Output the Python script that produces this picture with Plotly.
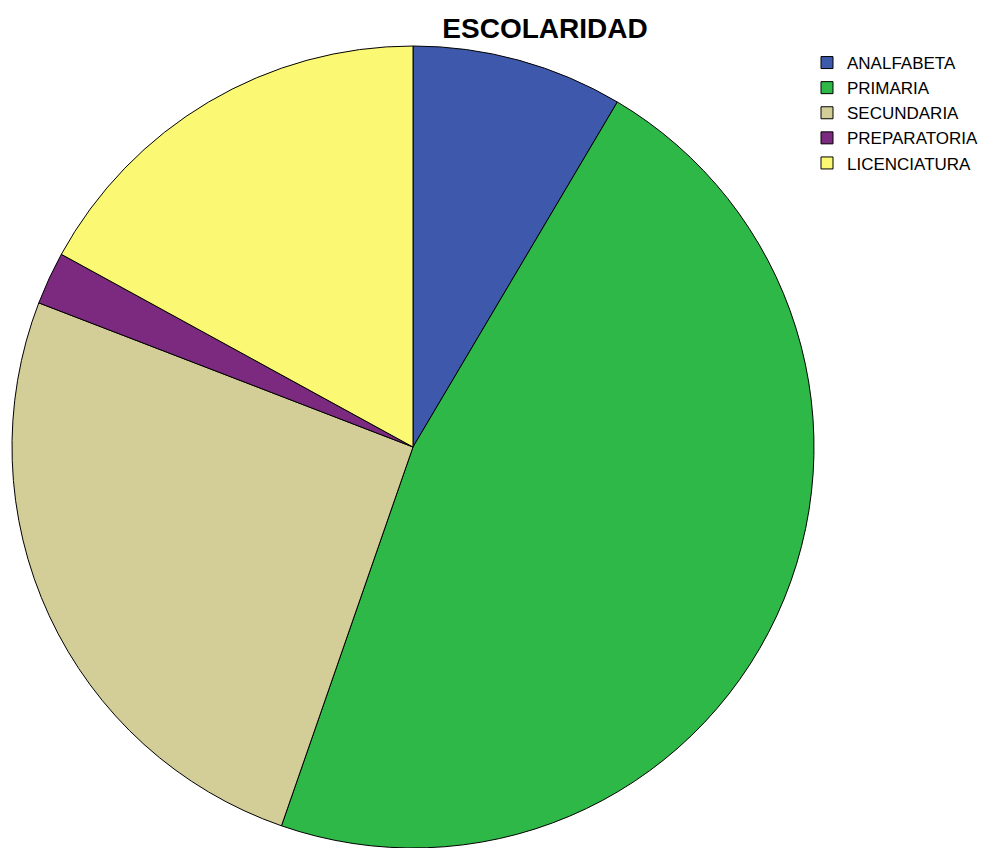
import plotly.graph_objects as go

categories = ["ANALFABETA", "PRIMARIA", "SECUNDARIA", "PREPARATORIA", "LICENCIATURA"]
counts = [4, 22, 12, 1, 8]
colors = ["#3E58AC", "#2EB848", "#D3CE97", "#7B2A7F", "#FBF873"]

W, H = 986, 848

fig = go.Figure(go.Pie(
    labels=categories,
    values=counts,
    sort=False,
    direction="clockwise",
    rotation=0,
    textinfo="none",
    hoverinfo="label+value+percent",
    marker=dict(colors=colors, line=dict(color="#000000", width=1)),
    domain=dict(x=[11 / W, 815 / W], y=[0, 1 - 46 / H]),
))

fig.update_layout(
    width=W, height=H,
    margin=dict(l=0, r=0, t=0, b=0),
    paper_bgcolor="white", plot_bgcolor="white",
    font=dict(family="Liberation Sans, Arial, sans-serif", color="#000000"),
    title=dict(text="<b>ESCOLARIDAD</b>", x=545 / W, xanchor="center",
               y=1 - 28 / H, yanchor="middle",
               font=dict(size=28, color="#000000")),
    legend=dict(x=807 / W, y=1 - 45 / H, xanchor="left", yanchor="top",
                font=dict(size=17, color="#000000"),
                bgcolor="rgba(0,0,0,0)", traceorder="normal"),
    showlegend=True,
)

fig.write_html("out.html")
